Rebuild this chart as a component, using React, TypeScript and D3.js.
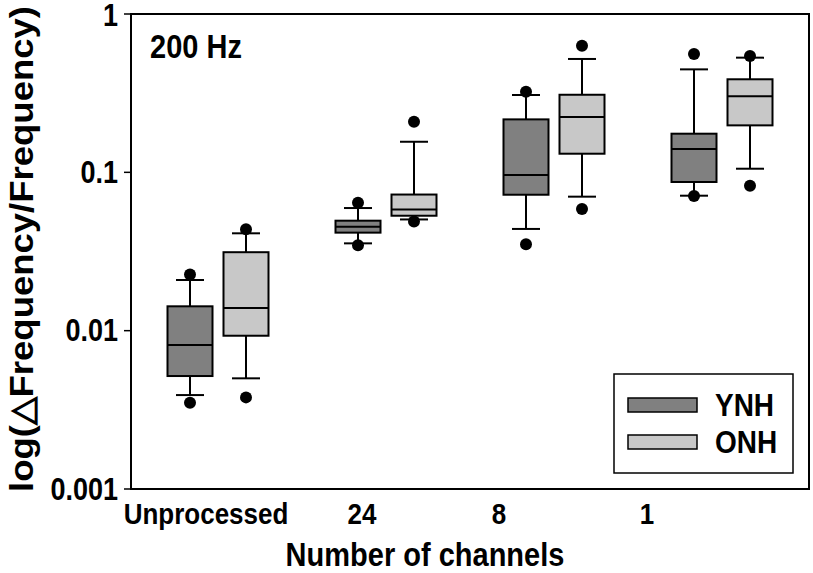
import React from "react";
import * as d3 from "d3";

const categories = ["Unprocessed", "24", "8", "1"];
const groups = ["YNH", "ONH"];
const yTicks = [0.001, 0.01, 0.1, 1];
const yTickLabels = ["0.001", "0.01", "0.1", "1"];

// per category: Unprocessed, 24, 8, 1
const ynhDotHigh = [0.0226, 0.0643, 0.323, 0.559];
const ynhWhiskerHigh = [0.0209, 0.0595, 0.308, 0.447];
const ynhQ3 = [0.01425, 0.0495, 0.216, 0.1754];
const ynhMedian = [0.00812, 0.0454, 0.0961, 0.1404];
const ynhQ1 = [0.00517, 0.0416, 0.0722, 0.0869];
const ynhWhiskerLow = [0.00392, 0.0356, 0.0439, 0.0712];
const ynhDotLow = [0.00351, 0.0346, 0.0351, 0.0708];

const onhDotHigh = [0.0437, 0.2088, 0.63, 0.543];
const onhWhiskerHigh = [0.0412, 0.156, 0.52, 0.53];
const onhQ3 = [0.0313, 0.0724, 0.309, 0.387];
const onhMedian = [0.0139, 0.0582, 0.2236, 0.302];
const onhQ1 = [0.00929, 0.0532, 0.1311, 0.198];
const onhWhiskerLow = [0.005, 0.0504, 0.0702, 0.1054];
const onhDotLow = [0.00379, 0.0489, 0.0587, 0.0823];

const fills: Record<string, string> = { YNH: "#808080", ONH: "#c8c8c8" };

const series = [
  { name: "YNH", dotHigh: ynhDotHigh, wHigh: ynhWhiskerHigh, q3: ynhQ3, med: ynhMedian, q1: ynhQ1, wLow: ynhWhiskerLow, dotLow: ynhDotLow },
  { name: "ONH", dotHigh: onhDotHigh, wHigh: onhWhiskerHigh, q3: onhQ3, med: onhMedian, q1: onhQ1, wLow: onhWhiskerLow, dotLow: onhDotLow },
];

const FONT = "'Liberation Sans', Arial, sans-serif";
const K = 1.15; // vertical stretch of the lettering

export default function App() {
  const W = 813, H = 573;
  const left = 131, right = 809, top = 14, bottom = 489;
  const y = d3.scaleLog().domain([0.001, 1]).range([bottom, top]);
  const x = d3.scalePoint<string>().domain(categories).range([218, 722]);
  const xLabel = d3.scaleOrdinal<string, number>().domain(categories).range([206, 362, 499, 647]);
  const off = d3.scalePoint<string>().domain(groups).range([-28, 28]);
  const boxW = 45;
  const capW = 28;
  const sw = 2;

  return (
    <svg width={W} height={H} style={{ position: "absolute", left: 0, top: 0, background: "#fff" }} fontFamily={FONT} fontWeight="bold">
      {/* frame */}
      <rect x={left} y={top} width={right - left} height={bottom - top} fill="none" stroke="#000" strokeWidth={2} />
      {yTicks.map((t, i) => (
        <g key={t}>
          <line x1={left - 7} x2={left} y1={y(t)} y2={y(t)} stroke="#000" strokeWidth={1.5} />
          <text transform={`translate(118,${y(t) + (t === 1 ? 1 : 0)}) scale(1,${K})`} textAnchor="end" dominantBaseline="central" fontSize={27}>{yTickLabels[i]}</text>
        </g>
      ))}
      {categories.map((c) => (
        <text key={c} transform={`translate(${xLabel(c)},524) scale(1,${K})`} textAnchor="middle" fontSize={26}>{c}</text>
      ))}
      <text transform={`translate(425,566) scale(1,${K})`} textAnchor="middle" fontSize={29}>Number of channels</text>
      <text transform="translate(33,249) rotate(-90)" textAnchor="middle" fontSize={33} textLength={486} lengthAdjust="spacingAndGlyphs">log(△Frequency/Frequency)</text>
      <text transform={`translate(150,58) scale(1,${K})`} fontSize={29}>200 Hz</text>

      {series.map((s) =>
        categories.map((c, i) => {
          const cx = (x(c) as number) + (off(s.name) as number);
          return (
            <g key={s.name + c}>
              <line x1={cx} x2={cx} y1={y(s.wHigh[i])} y2={y(s.q3[i])} stroke="#000" strokeWidth={sw} />
              <line x1={cx} x2={cx} y1={y(s.q1[i])} y2={y(s.wLow[i])} stroke="#000" strokeWidth={sw} />
              <line x1={cx - capW / 2} x2={cx + capW / 2} y1={y(s.wHigh[i])} y2={y(s.wHigh[i])} stroke="#000" strokeWidth={sw} />
              <line x1={cx - capW / 2} x2={cx + capW / 2} y1={y(s.wLow[i])} y2={y(s.wLow[i])} stroke="#000" strokeWidth={sw} />
              <rect x={cx - boxW / 2} y={y(s.q3[i])} width={boxW} height={y(s.q1[i]) - y(s.q3[i])} fill={fills[s.name]} stroke="#000" strokeWidth={sw} />
              <line x1={cx - boxW / 2} x2={cx + boxW / 2} y1={y(s.med[i])} y2={y(s.med[i])} stroke="#000" strokeWidth={sw} />
              <circle cx={cx} cy={y(s.dotHigh[i])} r={6} fill="#000" />
              <circle cx={cx} cy={y(s.dotLow[i])} r={6} fill="#000" />
            </g>
          );
        })
      )}

      {/* legend */}
      <rect x={614} y={374} width={179} height={99} fill="#fff" stroke="#000" strokeWidth={1.5} />
      {groups.map((g, i) => (
        <g key={g}>
          <rect x={628} y={398 + i * 37} width={69} height={14} fill={fills[g]} stroke="#000" strokeWidth={1.5} />
          <text transform={`translate(715,${416 + i * 37}) scale(1,${K})`} fontSize={28}>{g}</text>
        </g>
      ))}
    </svg>
  );
}
